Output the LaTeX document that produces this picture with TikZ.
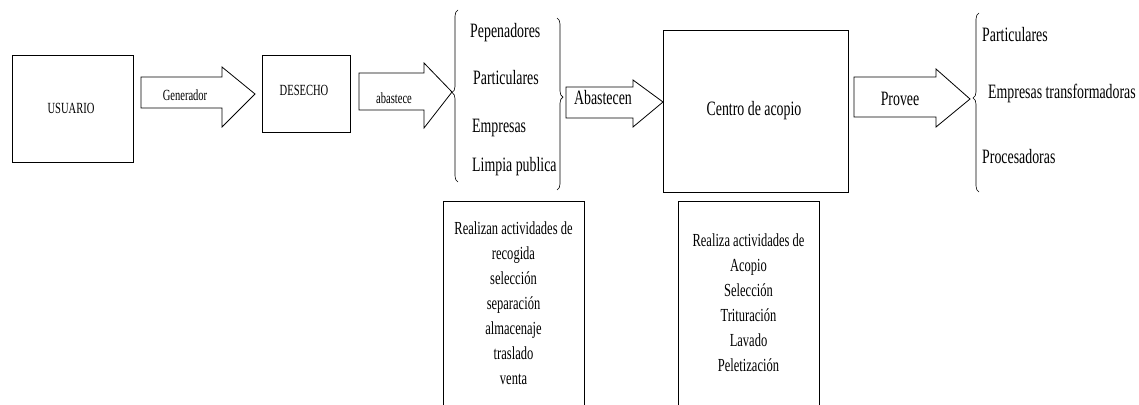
\documentclass[tikz,border=0pt]{standalone}
\usepackage{fontspec}
\setmainfont[FakeStretch=0.68]{Liberation Serif}
\newfontfamily\nf[FakeStretch=0.68]{Liberation Serif}
\usetikzlibrary{decorations.pathreplacing}
\tikzset{
  box/.style={draw=black, line width=0.9pt},
  barrow/.style={draw=black, line width=0.8pt},
  brc/.style={draw=black, line width=0.6pt, decorate, decoration={brace, amplitude=6pt}},
  big/.style={font=\nf\fontsize{20.4}{24.5}\selectfont, inner sep=0pt},
  small/.style={font=\nf\fontsize{15.5}{18}\selectfont, inner sep=0pt},
  lst/.style={font=\nf\fontsize{18.4}{25}\selectfont, inner sep=0pt, align=center, anchor=north}
}
\begin{document}
\begin{tikzpicture}[x=1pt,y=-1pt]
\useasboundingbox (0,0) rectangle (1139,404);
\clip (0,0) rectangle (1139,404);
% boxes
\draw[box] (12,55) rectangle (133,162);
\node[small] (usuario) at (71,108) {USUARIO};
\draw[box] (262,55) rectangle (350,132);
\node[small] (desecho) at (304,90) {DESECHO};
\draw[box] (663,30) rectangle (848,192);
\node[big] (centro) at (754,111) {Centro de acopio};
% block arrows
\draw[barrow] (141,77) -- (222,77) -- (222,67) -- (255,94) -- (222,127) -- (222,108) -- (141,108) -- cycle;
\node[small] (gen) at (185,95) {Generador};
\draw[barrow] (359,73) -- (424,73) -- (424,63) -- (452,92) -- (424,128) -- (424,110) -- (359,110) -- cycle;
\node[small] (abas) at (394,98) {abastece};
\draw[barrow] (566,87) -- (633,87) -- (633,80) -- (663,102) -- (633,127) -- (633,118) -- (566,118) -- cycle;
\node[big] (abasn) at (603,98) {Abastecen};
\draw[barrow] (854,77) -- (936,77) -- (936,69) -- (970,99) -- (936,127) -- (936,117) -- (854,117) -- cycle;
\node[big] (provee) at (900,99) {Provee};
% braces
\coordinate (b1s) at (458,182); \coordinate (b1e) at (458,10);
\draw[brc, decoration={aspect=0.52}] (b1s) -- (b1e);
\coordinate (b2s) at (557,18); \coordinate (b2e) at (557,190);
\draw[brc, decoration={aspect=0.46}] (b2s) -- (b2e);
\coordinate (b3s) at (979,192); \coordinate (b3e) at (979,13);
\draw[brc, decoration={aspect=0.525}] (b3s) -- (b3e);
% list 1
\node[big, anchor=west] (pep) at (470,33) {Pepenadores};
\node[big, anchor=west] (par1) at (473,78) {Particulares};
\node[big, anchor=west] (emp1) at (472,128) {Empresas};
\node[big, anchor=west] (lim) at (472,167) {Limpia publica};
% list 2
\node[big, anchor=west] (par2) at (982,35) {Particulares};
\node[big, anchor=west] (emp2) at (988,93) {Empresas transformadoras};
\node[big, anchor=west] (proc) at (982,157) {Procesadoras};
% bottom boxes
\draw[box] (443,410) -- (443,201) -- (584,201) -- (584,410);
\node[lst] (act1) at (513.5,222) {Realizan actividades de\\recogida\\selección\\separación\\almacenaje\\traslado\\venta};
\draw[box] (678,410) -- (678,201) -- (819,201) -- (819,410);
\node[lst] (act2) at (748.5,234) {Realiza actividades de\\Acopio\\Selección\\Trituración\\Lavado\\Peletización};
\end{tikzpicture}
\end{document}
